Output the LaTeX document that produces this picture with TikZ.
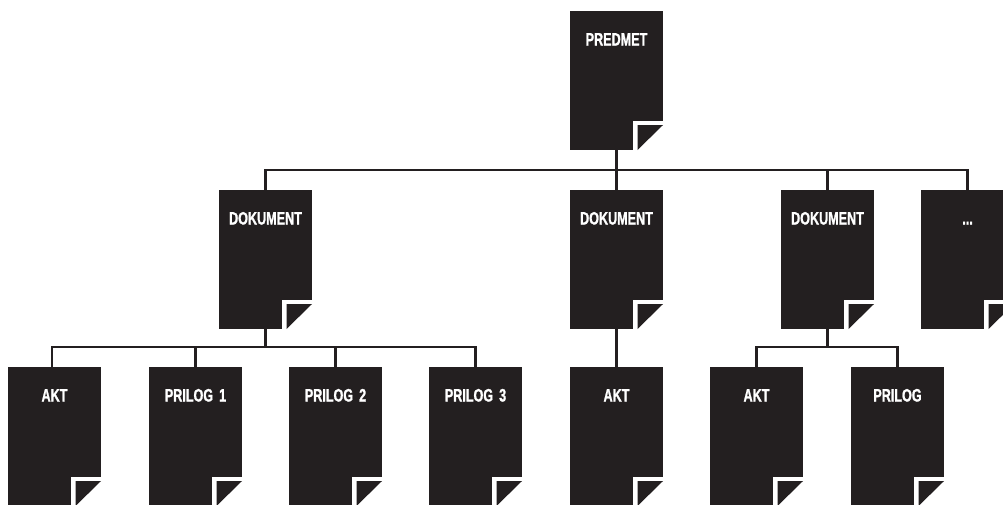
\documentclass[tikz,border=0pt]{standalone}
\usepackage{fontspec}
\setmainfont[FakeStretch=0.7,BoldFeatures={FakeStretch=0.7,FakeBold=1.2}]{Liberation Sans}
\definecolor{ink}{HTML}{231F20}
\tikzset{
  docbox/.style={rectangle, fill=ink, text=white, inner sep=0pt, outer sep=0pt,
    minimum width=93pt, text width=93pt, align=center,
    text height=34.5pt, text depth=104.5pt,
    font=\fontsize{18pt}{18pt}\selectfont\bfseries,
    path picture={
      \fill[white] ([xshift=-30pt]path picture bounding box.south east) rectangle
                   ([yshift=29.5pt]path picture bounding box.south east);
      \fill[ink] ([xshift=-25.5pt]path picture bounding box.south east) --
                 ([xshift=-25.5pt,yshift=25pt]path picture bounding box.south east) --
                 ([yshift=25pt]path picture bounding box.south east) -- cycle;
    }},
  conn/.style={draw=ink, line width=2.4pt, line cap=butt, line join=miter}
}
\begin{document}
\begin{tikzpicture}[x=1pt,y=-1pt]
\useasboundingbox (0,0) rectangle (1003,504);
\clip (0,0) rectangle (1003,504);
\node[docbox] (pre) at (616.5,80.5) {PREDMET};
\node[docbox] (d1) at (265.5,259.5) {DOKUMENT};
\node[docbox] (d2) at (616.5,259.5) {DOKUMENT};
\node[docbox] (d3) at (827.5,259.5) {DOKUMENT};
\node[docbox] (d4) at (967.5,259.5) {...};
\node[docbox] (a1) at (54.5,436.5) {AKT};
\node[docbox] (p1) at (195.5,436.5) {PRILOG 1};
\node[docbox] (p2) at (335.5,436.5) {PRILOG 2};
\node[docbox] (p3) at (475.5,436.5) {PRILOG 3};
\node[docbox] (a2) at (616.5,436.5) {AKT};
\node[docbox] (a3) at (756.5,436.5) {AKT};
\node[docbox] (p4) at (897.5,436.5) {PRILOG};
\coordinate (busA) at (616.5,170);
\coordinate (busB) at (265.5,347);
\coordinate (busC) at (827.5,347);
% top level
\draw[conn] (pre.south) -- (d2.north);
\draw[conn] (d1.north) |- (busA) -| (d4.north);
\draw[conn] (d3.north) -- (d3.north |- busA);
% first document
\draw[conn] (d1.south) -- (busB);
\draw[conn] ([xshift=-2.5pt]a1.north) |- (busB) -| (p3.north);
\draw[conn] (p1.north) -- (p1.north |- busB);
\draw[conn] (p2.north) -- (p2.north |- busB);
% second document
\draw[conn] (d2.south) -- (a2.north);
% third document
\draw[conn] (d3.south) -- (busC);
\draw[conn] (a3.north) |- (busC) -| (p4.north);
\end{tikzpicture}
\end{document}
